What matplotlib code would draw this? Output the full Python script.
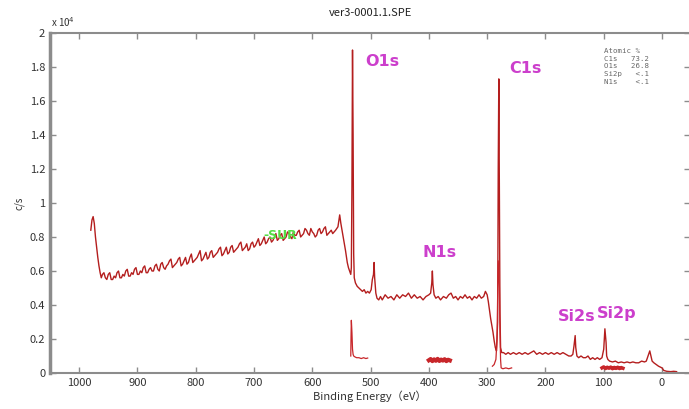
import numpy as np
import matplotlib.pyplot as plt

plt.rcParams['font.family'] = ['Noto Sans CJK JP', 'DejaVu Sans']

# survey spectrum, binding energy (eV) vs counts (x 10^4 c/s)
energy = [980, 978, 976, 974, 972, 970, 968, 966, 964, 962, 960,
          955, 950, 945, 940, 935, 930, 925, 920, 915, 910, 905, 900,
          895, 890, 885, 880, 875, 870, 865, 860, 855, 850, 845, 840,
          835, 830, 825, 820, 815, 810, 805, 800, 795, 790, 785, 780,
          775, 770, 765, 760, 755, 750, 745, 740, 735, 730, 725, 720,
          715, 710, 705, 700, 695, 690, 685, 680, 675, 670, 665, 660,
          655, 650, 645, 640, 635, 630, 625, 620, 615, 610, 605, 600,
          595, 590, 585, 580, 575, 570, 565, 560, 556, 553, 551, 549,
          546, 543, 540, 538, 536, 534, 533, 532, 531, 530, 529, 528,
          526, 523, 520, 517, 514, 511, 508, 505, 502, 499, 497, 495,
          494, 493, 491, 489, 486, 483, 480, 475, 470, 465, 460, 455,
          450, 445, 440, 435, 430, 425, 420, 415, 410, 405, 400, 397,
          395, 394, 393, 391, 388, 384, 380, 375, 370, 366, 362, 358,
          354, 350, 346, 342, 338, 334, 330, 326, 322, 318, 314, 310,
          306, 303, 300, 298, 296, 294, 292, 290, 288, 286, 284, 282,
          281, 280, 279, 278, 277, 275, 272, 268, 264, 260, 255, 250,
          245, 240, 235, 230, 225, 220, 215, 210, 205, 200, 195, 190,
          185, 180, 175, 170, 165, 160, 156, 153, 151, 149, 148, 146,
          143, 139, 135, 131, 127, 123, 119, 115, 111, 107, 103, 100,
          98, 96, 95, 93, 90, 85, 80, 75, 70, 65, 60, 55, 50, 45, 40,
          35, 30, 27, 24, 21, 19, 17, 14, 10, 6, 3, 0, -3, -8, -15,
          -20, -25]
counts = [0.84, 0.90, 0.92, 0.88, 0.80, 0.74, 0.68, 0.63, 0.59, 0.56, 0.58,
          0.56, 0.58, 0.55, 0.57, 0.59, 0.56, 0.58, 0.60, 0.57, 0.59, 0.61, 0.58,
          0.60, 0.62, 0.59, 0.61, 0.60, 0.63, 0.61, 0.64, 0.62, 0.63, 0.66, 0.62,
          0.64, 0.67, 0.63, 0.66, 0.64, 0.68, 0.65, 0.67, 0.70, 0.66, 0.69, 0.67,
          0.71, 0.68, 0.70, 0.73, 0.69, 0.72, 0.70, 0.74, 0.71, 0.73, 0.76, 0.72,
          0.74, 0.72, 0.76, 0.74, 0.77, 0.75, 0.78, 0.76, 0.79, 0.77, 0.80, 0.78,
          0.81, 0.78, 0.80, 0.82, 0.79, 0.81, 0.83, 0.80, 0.82, 0.84, 0.81, 0.83,
          0.80, 0.84, 0.82, 0.85, 0.81, 0.83, 0.82, 0.84, 0.86, 0.93, 0.88, 0.84,
          0.78, 0.72, 0.65, 0.62, 0.60, 0.58, 0.62, 1.10, 1.90, 1.40, 0.70, 0.56,
          0.53, 0.51, 0.50, 0.49, 0.48, 0.49, 0.47, 0.48, 0.47, 0.49, 0.55, 0.58,
          0.65, 0.56, 0.47, 0.44, 0.43, 0.45, 0.43, 0.46, 0.44, 0.45, 0.43, 0.46,
          0.44, 0.46, 0.45, 0.47, 0.44, 0.46, 0.44, 0.45, 0.43, 0.45, 0.46, 0.47,
          0.53, 0.60, 0.52, 0.46, 0.44, 0.45, 0.43, 0.45, 0.44, 0.46, 0.47, 0.44,
          0.45, 0.43, 0.45, 0.44, 0.46, 0.44, 0.45, 0.43, 0.45, 0.44, 0.46, 0.44,
          0.45, 0.48, 0.46, 0.42, 0.37, 0.32, 0.28, 0.24, 0.19, 0.15, 0.13, 0.30,
          1.20, 1.73, 1.10, 0.35, 0.15, 0.12, 0.12, 0.11, 0.12, 0.11, 0.12, 0.11,
          0.12, 0.11, 0.12, 0.11, 0.12, 0.13, 0.11, 0.12, 0.11, 0.12, 0.11, 0.12,
          0.11, 0.12, 0.11, 0.12, 0.11, 0.10, 0.10, 0.11, 0.16, 0.22, 0.15, 0.10,
          0.09, 0.10, 0.09, 0.09, 0.10, 0.08, 0.09, 0.08, 0.09, 0.08, 0.09, 0.14,
          0.26, 0.18, 0.10, 0.08, 0.07, 0.065, 0.07, 0.06, 0.065, 0.06, 0.065,
          0.06, 0.065, 0.06, 0.06, 0.07, 0.065, 0.07, 0.10, 0.13, 0.10, 0.07,
          0.06, 0.05, 0.04, 0.035, 0.03, 0.015, 0.01, 0.008, 0.01, 0.008]

# extra readings between the points above on the sloping background
slope_e = [957.5, 952.5, 947.5, 942.5, 937.5, 932.5, 927.5, 922.5, 917.5, 912.5,
           907.5, 902.5, 897.5, 892.5, 887.5, 882.5, 877.5, 872.5, 867.5, 862.5,
           857.5, 852.5, 847.5, 842.5, 837.5, 832.5, 827.5, 822.5, 817.5, 812.5,
           807.5, 802.5, 797.5, 792.5, 787.5, 782.5, 777.5, 772.5, 767.5, 762.5,
           757.5, 752.5, 747.5, 742.5, 737.5, 732.5, 727.5, 722.5, 717.5, 712.5,
           707.5, 702.5, 697.5, 692.5, 687.5, 682.5, 677.5, 672.5, 667.5, 662.5,
           657.5, 652.5, 647.5, 642.5, 637.5, 632.5, 627.5, 622.5, 617.5, 612.5,
           607.5, 602.5, 597.5, 592.5, 587.5, 582.5, 577.5, 572.5, 567.5, 562.5]
slope_v = [0.59, 0.55, 0.59, 0.55, 0.56, 0.60, 0.56, 0.57, 0.61, 0.57,
           0.58, 0.62, 0.58, 0.59, 0.63, 0.59, 0.62, 0.60, 0.64, 0.60,
           0.65, 0.61, 0.64, 0.67, 0.63, 0.65, 0.68, 0.64, 0.68, 0.65,
           0.70, 0.66, 0.68, 0.72, 0.67, 0.71, 0.68, 0.72, 0.69, 0.71,
           0.74, 0.70, 0.74, 0.71, 0.75, 0.72, 0.74, 0.77, 0.73, 0.76,
           0.73, 0.77, 0.75, 0.79, 0.76, 0.80, 0.77, 0.80, 0.78, 0.82,
           0.79, 0.82, 0.79, 0.83, 0.80, 0.83, 0.81, 0.84, 0.81, 0.85,
           0.82, 0.85, 0.82, 0.81, 0.85, 0.83, 0.86, 0.82, 0.84, 0.83]

# high resolution windows drawn small under the survey
o1s_e = [534, 533.5, 533, 532, 531, 530, 529, 527, 524, 520, 516, 512, 508, 505]
o1s_v = [0.10, 0.22, 0.31, 0.24, 0.14, 0.11, 0.10, 0.095, 0.09, 0.09, 0.085, 0.09, 0.085, 0.088]
n1s_e = [400, 397, 394, 391, 388, 385, 382, 379, 376, 373, 370, 367, 364]
n1s_v = [0.075, 0.082, 0.070, 0.080, 0.072, 0.083, 0.071, 0.079, 0.073, 0.081, 0.070, 0.078, 0.074]
c1s_e = [291, 288, 285, 283, 282, 281, 279, 278, 277, 276, 273, 268, 263, 258]
c1s_v = [0.04, 0.05, 0.08, 0.20, 0.45, 0.66, 0.50, 0.25, 0.08, 0.03, 0.025, 0.03, 0.025, 0.03]
si2p_e = [103, 100, 97, 94, 91, 88, 85, 82, 79, 76, 73, 70, 67]
si2p_v = [0.030, 0.036, 0.026, 0.034, 0.028, 0.035, 0.025, 0.033, 0.027, 0.034, 0.026, 0.032, 0.028]

peak_labels = ['O1s', 'C1s', 'N1s', 'Si2s', 'Si2p']
label_e = [480, 235, 381, 146, 77]
label_v = [1.835, 1.79, 0.71, 0.335, 0.35]

atomic_names = ['C1s', 'O1s', 'Si2p', 'N1s']
atomic_pct = ['73.2', '26.8', '<.1', '<.1']

line_color = '#b41e1e'
axis_gray = '#8c8c8c'

survey = sorted(zip(energy + slope_e, counts + slope_v), reverse=True)
survey_e = [p[0] for p in survey]
survey_v = [p[1] for p in survey]

fig = plt.figure(figsize=(6.89, 4.09), dpi=100)
ax = fig.add_axes([50 / 689, 36 / 409, 640 / 689, 340 / 409])

ax.plot(survey_e, survey_v, color=line_color, lw=1.0)
for e, v, w in [(o1s_e, o1s_v, 0.9), (n1s_e, n1s_v, 3.0), (c1s_e, c1s_v, 0.9), (si2p_e, si2p_v, 2.5)]:
    ax.plot(e, v, color='#c8262a', lw=w)

for name, e, v in zip(peak_labels, label_e, label_v):
    ax.text(e, v, name, color='#cc3fcc', fontsize=11.5, fontweight='bold',
            ha='center', va='center', family='DejaVu Sans')
ax.text(655, 0.806, '-SUR', color='#55dd44', fontsize=9, fontweight='bold',
        ha='center', va='center', family='DejaVu Sans')

atomic_text = 'Atomic %\n' + '\n'.join(f'{n:<5}{p:>5}' for n, p in zip(atomic_names, atomic_pct))
ax.text(0.866, 0.956, atomic_text, transform=ax.transAxes, family='DejaVu Sans Mono',
        fontsize=5.3, color='#666666', va='top', ha='left', linespacing=1.35)

ax.set_xlim(1050, -48)
ax.set_ylim(0, 2)
ax.set_xticks(np.arange(1000, -1, -100))
ax.set_yticks(np.arange(0, 2.01, 0.2))
ax.set_yticklabels(['0', '0.2', '0.4', '0.6', '0.8', '1', '1.2', '1.4', '1.6', '1.8', '2'])
ax.tick_params(direction='in', length=4, width=1, color=axis_gray, labelsize=8,
               labelcolor='#333333', top=True, right=True)
for side, lw in [('left', 2.5), ('bottom', 1.5), ('top', 1.5)]:
    ax.spines[side].set_color(axis_gray)
    ax.spines[side].set_linewidth(lw)
ax.spines['right'].set_visible(False)

ax.set_xlabel('Binding Energy（eV）', fontsize=8, color='#333333', labelpad=2)
ax.set_ylabel('c/s', fontsize=7, color='#333333', labelpad=4)
ax.set_title('ver3-0001.1.SPE', fontsize=8, color='#222222', pad=12)
ax.text(0.002, 1.012, 'x 10$^4$', transform=ax.transAxes, fontsize=7,
        color='#333333', ha='left', va='bottom')

fig.savefig('out.png', dpi=100)
